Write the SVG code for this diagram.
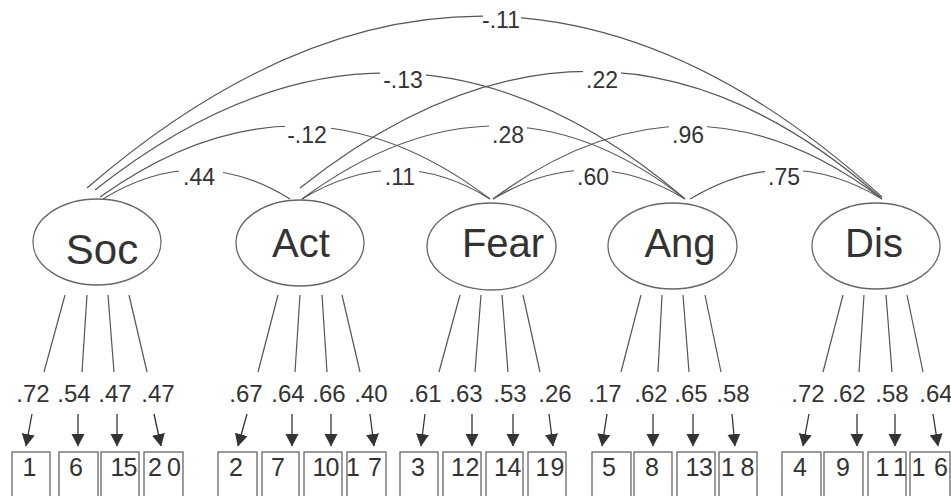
<svg xmlns="http://www.w3.org/2000/svg" width="951" height="496" viewBox="0 0 951 496">
<defs>
<marker id="ah" markerUnits="userSpaceOnUse" markerWidth="14" markerHeight="14" viewBox="0 0 14 14" refX="12" refY="7" orient="auto">
<path d="M0,0.5 L12.5,7 L0,13.5 Z" fill="#333"/>
</marker>
</defs>
<style>
.bg{fill:#fff}
.cv{fill:none;stroke:#555;stroke-width:1.2}
.ln{fill:none;stroke:#555;stroke-width:1.2}
.ar{fill:none;stroke:#333;stroke-width:1.3;marker-end:url(#ah)}
.el{fill:#fff;stroke:#666;stroke-width:1.3}
.bx{fill:#fff;stroke:#666;stroke-width:1.3}
.lb{fill:#fff}
.t{font-family:"Liberation Sans",Arial,sans-serif;fill:#333;text-anchor:middle}
.big{font-size:40px}
.cl{font-size:23px}
.ld{font-size:24px}
.nm{font-size:25px}
</style>
<rect class="bg" x="0" y="0" width="951" height="496"/>

<g id="connectors">
<path class="cv" d="M87,188 Q490,-160 882,197"/>
<path class="cv" d="M95,190 Q395,-48 684,198"/>
<path class="cv" d="M300,188 Q600,-50 881,198"/>
<path class="cv" d="M100,197 Q300,54 490,199"/>
<path class="cv" d="M302,199 Q500,53 685,199"/>
<path class="cv" d="M493,199 Q690,53 882,199"/>
<path class="cv" d="M103,199 Q197,141 290,199"/>
<path class="cv" d="M302,199 Q398,141 490,199"/>
<path class="cv" d="M493,199 Q590,141 685,199"/>
<path class="cv" d="M690,199 Q786,141 882,199"/>

<rect class="lb" x="483" y="11" width="38" height="18"/>
<text class="t cl" x="501" y="28">-.11</text>
<rect class="lb" x="380" y="70" width="46" height="19"/>
<text class="t cl" x="403" y="88">-.13</text>
<rect class="lb" x="583" y="70" width="38" height="19"/>
<text class="t cl" x="602" y="88">.22</text>
<rect class="lb" x="285" y="125" width="46" height="19"/>
<text class="t cl" x="307" y="143">-.12</text>
<rect class="lb" x="489" y="125" width="38" height="19"/>
<text class="t cl" x="508" y="143">.28</text>
<rect class="lb" x="669" y="125" width="38" height="19"/>
<text class="t cl" x="688" y="143">.96</text>
<rect class="lb" x="179" y="166" width="44" height="21"/>
<text class="t cl" x="199" y="185">.44</text>
<rect class="lb" x="381" y="166" width="38" height="21"/>
<text class="t cl" x="400" y="185">.11</text>
<rect class="lb" x="574" y="166" width="38" height="21"/>
<text class="t cl" x="593" y="185">.60</text>
<rect class="lb" x="765" y="166" width="38" height="21"/>
<text class="t cl" x="784" y="185">.75</text>

<line class="ln" x1="65" y1="295" x2="44" y2="372"/>
<line class="ln" x1="87" y1="295" x2="82" y2="372"/>
<line class="ln" x1="108" y1="295" x2="114" y2="372"/>
<line class="ln" x1="129" y1="295" x2="147" y2="372"/>
<line class="ln" x1="278" y1="295" x2="258" y2="372"/>
<line class="ln" x1="300" y1="295" x2="295" y2="372"/>
<line class="ln" x1="322" y1="295" x2="327" y2="372"/>
<line class="ln" x1="342" y1="295" x2="360" y2="372"/>
<line class="ln" x1="460" y1="295" x2="439" y2="372"/>
<line class="ln" x1="481" y1="295" x2="475" y2="372"/>
<line class="ln" x1="502" y1="295" x2="508" y2="372"/>
<line class="ln" x1="523" y1="295" x2="540" y2="372"/>
<line class="ln" x1="641" y1="295" x2="621" y2="372"/>
<line class="ln" x1="662" y1="295" x2="658" y2="372"/>
<line class="ln" x1="683" y1="295" x2="689" y2="372"/>
<line class="ln" x1="705" y1="295" x2="721" y2="372"/>
<line class="ln" x1="843" y1="295" x2="823" y2="372"/>
<line class="ln" x1="864" y1="295" x2="859" y2="372"/>
<line class="ln" x1="886" y1="295" x2="892" y2="372"/>
<line class="ln" x1="907" y1="295" x2="923" y2="372"/>

<text class="t ld" x="33" y="402">.72</text>
<text class="t ld" x="74" y="402">.54</text>
<text class="t ld" x="115" y="402">.47</text>
<text class="t ld" x="158" y="402">.47</text>
<text class="t ld" x="246" y="402">.67</text>
<text class="t ld" x="288" y="402">.64</text>
<text class="t ld" x="329" y="402">.66</text>
<text class="t ld" x="371" y="402">.40</text>
<text class="t ld" x="425" y="402">.61</text>
<text class="t ld" x="466" y="402">.63</text>
<text class="t ld" x="510" y="402">.53</text>
<text class="t ld" x="555" y="402">.26</text>
<text class="t ld" x="605" y="402">.17</text>
<text class="t ld" x="651" y="402">.62</text>
<text class="t ld" x="691" y="402">.65</text>
<text class="t ld" x="733" y="402">.58</text>
<text class="t ld" x="808" y="402">.72</text>
<text class="t ld" x="849" y="402">.62</text>
<text class="t ld" x="892" y="402">.58</text>
<text class="t ld" x="936" y="402">.64</text>

<line class="ar" x1="32" y1="414" x2="26" y2="446"/>
<line class="ar" x1="78" y1="414" x2="78" y2="446"/>
<line class="ar" x1="117" y1="414" x2="117" y2="446"/>
<line class="ar" x1="154" y1="414" x2="161" y2="446"/>
<line class="ar" x1="247" y1="414" x2="238" y2="446"/>
<line class="ar" x1="292" y1="414" x2="292" y2="446"/>
<line class="ar" x1="331" y1="414" x2="331" y2="446"/>
<line class="ar" x1="370" y1="414" x2="374" y2="446"/>
<line class="ar" x1="425" y1="414" x2="421" y2="446"/>
<line class="ar" x1="472" y1="414" x2="472" y2="446"/>
<line class="ar" x1="513" y1="414" x2="513" y2="446"/>
<line class="ar" x1="549" y1="414" x2="553" y2="446"/>
<line class="ar" x1="607" y1="414" x2="602" y2="446"/>
<line class="ar" x1="653" y1="414" x2="653" y2="446"/>
<line class="ar" x1="693" y1="414" x2="693" y2="446"/>
<line class="ar" x1="732" y1="414" x2="735" y2="446"/>
<line class="ar" x1="809" y1="414" x2="803" y2="446"/>
<line class="ar" x1="857" y1="414" x2="857" y2="446"/>
<line class="ar" x1="895" y1="414" x2="895" y2="446"/>
<line class="ar" x1="933" y1="414" x2="938" y2="446"/>
</g>

<g id="Soc"><ellipse class="el" cx="97" cy="242" rx="64" ry="43"/><text class="t big" x="102" y="264" style="font-size:42px">Soc</text></g>
<g id="Act"><ellipse class="el" cx="300" cy="243" rx="64" ry="43"/><text class="t big" x="301" y="257">Act</text></g>
<g id="Fear"><ellipse class="el" cx="491.5" cy="246.5" rx="64.5" ry="43.5"/><text class="t big" x="503" y="257">Fear</text></g>
<g id="Ang"><ellipse class="el" cx="672.5" cy="246" rx="64.5" ry="43"/><text class="t big" x="680" y="257">Ang</text></g>
<g id="Dis"><ellipse class="el" cx="876" cy="246" rx="64" ry="43"/><text class="t big" x="874" y="257">Dis</text></g>

<g id="i1"><rect class="bx" x="12" y="452" width="38" height="50"/><text class="t nm" x="29.5" y="476">1</text></g>
<g id="i6"><rect class="bx" x="59" y="452" width="39" height="50"/><text class="t nm" x="76" y="476">6</text></g>
<g id="i15"><rect class="bx" x="101" y="452" width="38" height="50"/><text class="t nm" y="476"><tspan x="117.5">1</tspan><tspan x="130.5">5</tspan></text></g>
<g id="i20"><rect class="bx" x="144" y="452" width="39" height="50"/><text class="t nm" y="476"><tspan x="155">2</tspan><tspan x="174">0</tspan></text></g>
<g id="i2"><rect class="bx" x="218" y="452" width="39" height="50"/><text class="t nm" x="236" y="476">2</text></g>
<g id="i7"><rect class="bx" x="262" y="452" width="37" height="50"/><text class="t nm" x="278" y="476">7</text></g>
<g id="i10"><rect class="bx" x="304" y="452" width="38" height="50"/><text class="t nm" y="476"><tspan x="319.5">1</tspan><tspan x="332.5">0</tspan></text></g>
<g id="i17"><rect class="bx" x="347" y="452" width="39" height="50"/><text class="t nm" y="476"><tspan x="353">1</tspan><tspan x="375">7</tspan></text></g>
<g id="i3"><rect class="bx" x="400" y="452" width="38" height="50"/><text class="t nm" x="418" y="476">3</text></g>
<g id="i12"><rect class="bx" x="443" y="452" width="38" height="50"/><text class="t nm" y="476"><tspan x="458">1</tspan><tspan x="472.5">2</tspan></text></g>
<g id="i14"><rect class="bx" x="486" y="452" width="37" height="50"/><text class="t nm" y="476"><tspan x="501">1</tspan><tspan x="514.5">4</tspan></text></g>
<g id="i19"><rect class="bx" x="528" y="452" width="38" height="50"/><text class="t nm" y="476"><tspan x="542.5">1</tspan><tspan x="557.5">9</tspan></text></g>
<g id="i5"><rect class="bx" x="592" y="452" width="39" height="50"/><text class="t nm" x="609" y="476">5</text></g>
<g id="i8"><rect class="bx" x="634" y="452" width="38" height="50"/><text class="t nm" x="652" y="476">8</text></g>
<g id="i13"><rect class="bx" x="677" y="452" width="38" height="50"/><text class="t nm" y="476"><tspan x="692.5">1</tspan><tspan x="706">3</tspan></text></g>
<g id="i18"><rect class="bx" x="719" y="452" width="38" height="50"/><text class="t nm" y="476"><tspan x="728">1</tspan><tspan x="747.5">8</tspan></text></g>
<g id="i4"><rect class="bx" x="782" y="452" width="39" height="50"/><text class="t nm" x="800" y="476">4</text></g>
<g id="i9"><rect class="bx" x="824" y="452" width="39" height="50"/><text class="t nm" x="843" y="476">9</text></g>
<g id="i11"><rect class="bx" x="868" y="452" width="38" height="50"/><text class="t nm" y="476"><tspan x="882.5">1</tspan><tspan x="900">1</tspan></text></g>
<g id="i16"><rect class="bx" x="910" y="452" width="40" height="50"/><text class="t nm" y="476"><tspan x="918.5">1</tspan><tspan x="941">6</tspan></text></g>
</svg>
